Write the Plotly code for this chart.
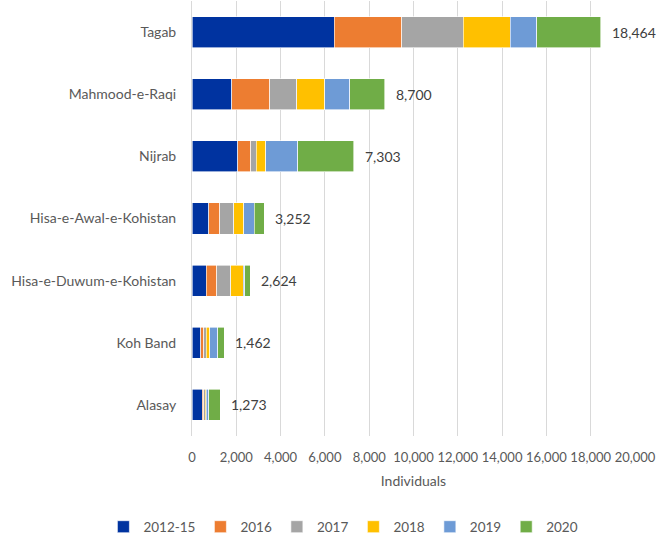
import plotly.graph_objects as go

districts = ["Tagab", "Mahmood-e-Raqi", "Nijrab", "Hisa-e-Awal-e-Kohistan",
             "Hisa-e-Duwum-e-Kohistan", "Koh Band", "Alasay"]
years = ["2012-15", "2016", "2017", "2018", "2019", "2020"]
v2012_15 = [6430, 1801, 2070, 750, 648, 386, 461]
v2016 = [3040, 1706, 573, 500, 470, 136, 59]
v2017 = [2780, 1222, 257, 637, 639, 122, 77]
v2018 = [2120, 1267, 420, 455, 561, 150, 45]
v2019 = [1200, 1118, 1460, 469, 64, 377, 103]
v2020 = [2894, 1586, 2523, 441, 242, 291, 528]
totals = [18464, 8700, 7303, 3252, 2624, 1462, 1273]
colors = ["#0033A0", "#ED7D31", "#A5A5A5", "#FFC000", "#6E9BD6", "#70AD47"]

series = [v2012_15, v2016, v2017, v2018, v2019, v2020]
font = "Lato"
fs = 14
fig = go.Figure()
for name, vals, col in zip(years, series, colors):
    fig.add_trace(go.Bar(y=districts, x=vals, name=name, orientation="h",
                         marker=dict(color=col, line=dict(width=0.6, color="white"))))

for d, t in zip(districts, totals):
    fig.add_annotation(x=t, y=d, text=f"{t:,}", showarrow=False, xanchor="left",
                       xshift=9, font=dict(family=font, size=fs, color="#404040"))

fig.update_layout(
    width=657, height=538, barmode="stack", bargap=0.5,
    margin=dict(l=192, r=22, t=1, b=102, autoexpand=False),
    paper_bgcolor="white", plot_bgcolor="white",
    font=dict(family=font, size=fs, color="#595959"),
    legend=dict(orientation="h", x=-0.2, xanchor="left", y=-0.209, yanchor="middle",
                font=dict(size=13.5, color="#595959"), itemwidth=30, traceorder="normal"),
)
fig.update_xaxes(range=[0, 20000], dtick=2000, tickformat=",", showgrid=True,
                 gridcolor="#D9D9D9", gridwidth=1, zeroline=False, showline=False,
                 ticklabelstandoff=12, tickangle=0, tickfont=dict(size=13, color="#595959"),
                 title=dict(text="Individuals", standoff=12, font=dict(size=fs, color="#595959")))
fig.update_yaxes(autorange="reversed", showgrid=False, showline=True, linecolor="#D9D9D9",
                 ticklabelstandoff=12, tickfont=dict(size=fs, color="#595959"))

fig.write_html("out.html")
